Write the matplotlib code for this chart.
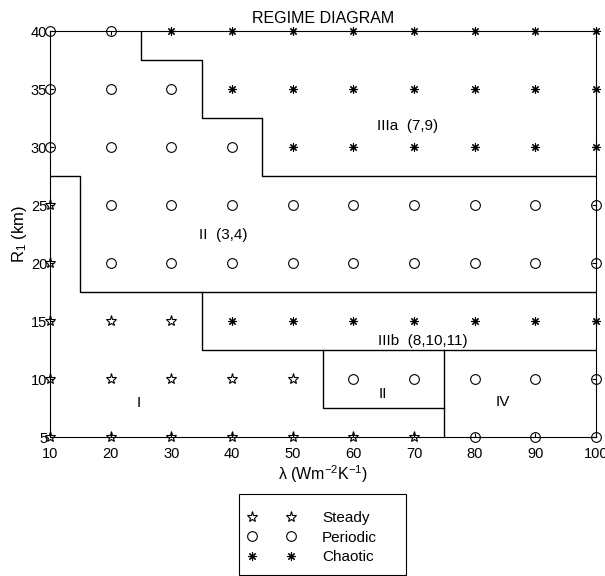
import matplotlib
matplotlib.use("Agg")
import matplotlib.pyplot as plt
from matplotlib.patches import Rectangle
import numpy as np

plt.rcParams['font.family'] = ['Liberation Sans', 'DejaVu Sans']
plt.rcParams['mathtext.fontset'] = 'custom'
plt.rcParams['mathtext.rm'] = 'Liberation Sans'
plt.rcParams['mathtext.it'] = 'Liberation Sans'

lam = [10, 20, 30, 40, 50, 60, 70, 80, 90, 100]
r1 = [40, 35, 30, 25, 20, 15, 10, 5]
# S = steady, P = periodic, C = chaotic ; rows follow r1, columns follow lam
regime_rows = [
    "PPCCCCCCCC",
    "PPPCCCCCCC",
    "PPPPCCCCCC",
    "SPPPPPPPPP",
    "SPPPPPPPPP",
    "SSSCCCCCCC",
    "SSSSSPPPPP",
    "SSSSSSSPPP",
]

# Boundary polylines (lambda, R1)
boundaries = [
    ([10, 15, 15, 100], [27.5, 27.5, 17.5, 17.5]),
    ([35, 35, 100], [17.5, 12.5, 12.5]),
    ([55, 55, 75], [12.5, 7.5, 7.5]),
    ([75, 75], [12.5, 5]),
    ([25, 25, 35, 35, 45, 45, 100], [40, 37.5, 37.5, 32.5, 32.5, 27.5, 27.5]),
]

region_labels = ["IIIa  (7,9)", "II  (3,4)", "IIIb  (8,10,11)", "I", "II", "IV"]
label_x = [68.9, 38.5, 71.4, 24.7, 64.9, 84.7]
label_y = [31.8, 22.4, 13.3, 7.9, 8.7, 8.0]

fig = plt.figure(figsize=(6.05, 5.76), dpi=100)
ax = fig.add_axes([0.0826, 0.2413, 0.9024, 0.7047])

for xs, ys in boundaries:
    ax.plot(xs, ys, color='black', lw=1.0)

styles = {
    'S': dict(marker='*', ms=8, mfc='none', mec='black', mew=0.8, ls='none'),
    'P': dict(marker='o', ms=7, mfc='none', mec='black', mew=0.8, ls='none'),
    'C': dict(marker=(8, 2, 0), ms=6, mfc='none', mec='black', mew=0.8, ls='none'),
}
names = {'S': 'Steady', 'P': 'Periodic', 'C': 'Chaotic'}
handles = {}
for key in ['S', 'P', 'C']:
    xs, ys = [], []
    for yi, row in zip(r1, regime_rows):
        for xi, c in zip(lam, row):
            if c == key:
                xs.append(xi)
                ys.append(yi)
    h, = ax.plot(xs, ys, label=names[key], clip_on=False, zorder=5, **styles[key])
    handles[key] = h

for t, x, y in zip(region_labels, label_x, label_y):
    ax.text(x, y, t, ha='center', va='center', fontsize=11)

ax.set_xlim(10, 100)
ax.set_ylim(5, 40)
ax.set_xticks(lam)
ax.set_yticks(sorted(r1))
ax.tick_params(direction='in', length=3, labelsize=10.5, pad=2, top=True, right=True)
ax.tick_params(axis='x', pad=7)
for s in ax.spines.values():
    s.set_linewidth(0.8)
    s.set_zorder(6)

ax.set_xlabel('λ (Wm$^{-2}$K$^{-1}$)', fontsize=11.5, labelpad=2)
ax.set_ylabel('R$_1$ (km)', fontsize=12, labelpad=1)
ax.set_title('REGIME DIAGRAM', fontsize=11.5, pad=6)

# legend frame (drawn separately to match the wide MATLAB-style box)
fig.patches.append(Rectangle((0.395, 0.0017), 0.276, 0.1406, transform=fig.transFigure,
                             fill=False, edgecolor='black', lw=0.8))
fig.legend([handles['S'], handles['P'], handles['C']],
           ['Steady', 'Periodic', 'Chaotic'],
           loc='upper left', bbox_to_anchor=(0.4089, 0.1128),
           numpoints=2, handlelength=3.15, handletextpad=1.75,
           frameon=False, fontsize=11, borderpad=0, labelspacing=0.36,
           borderaxespad=0)

fig.savefig('out.png', dpi=100)
